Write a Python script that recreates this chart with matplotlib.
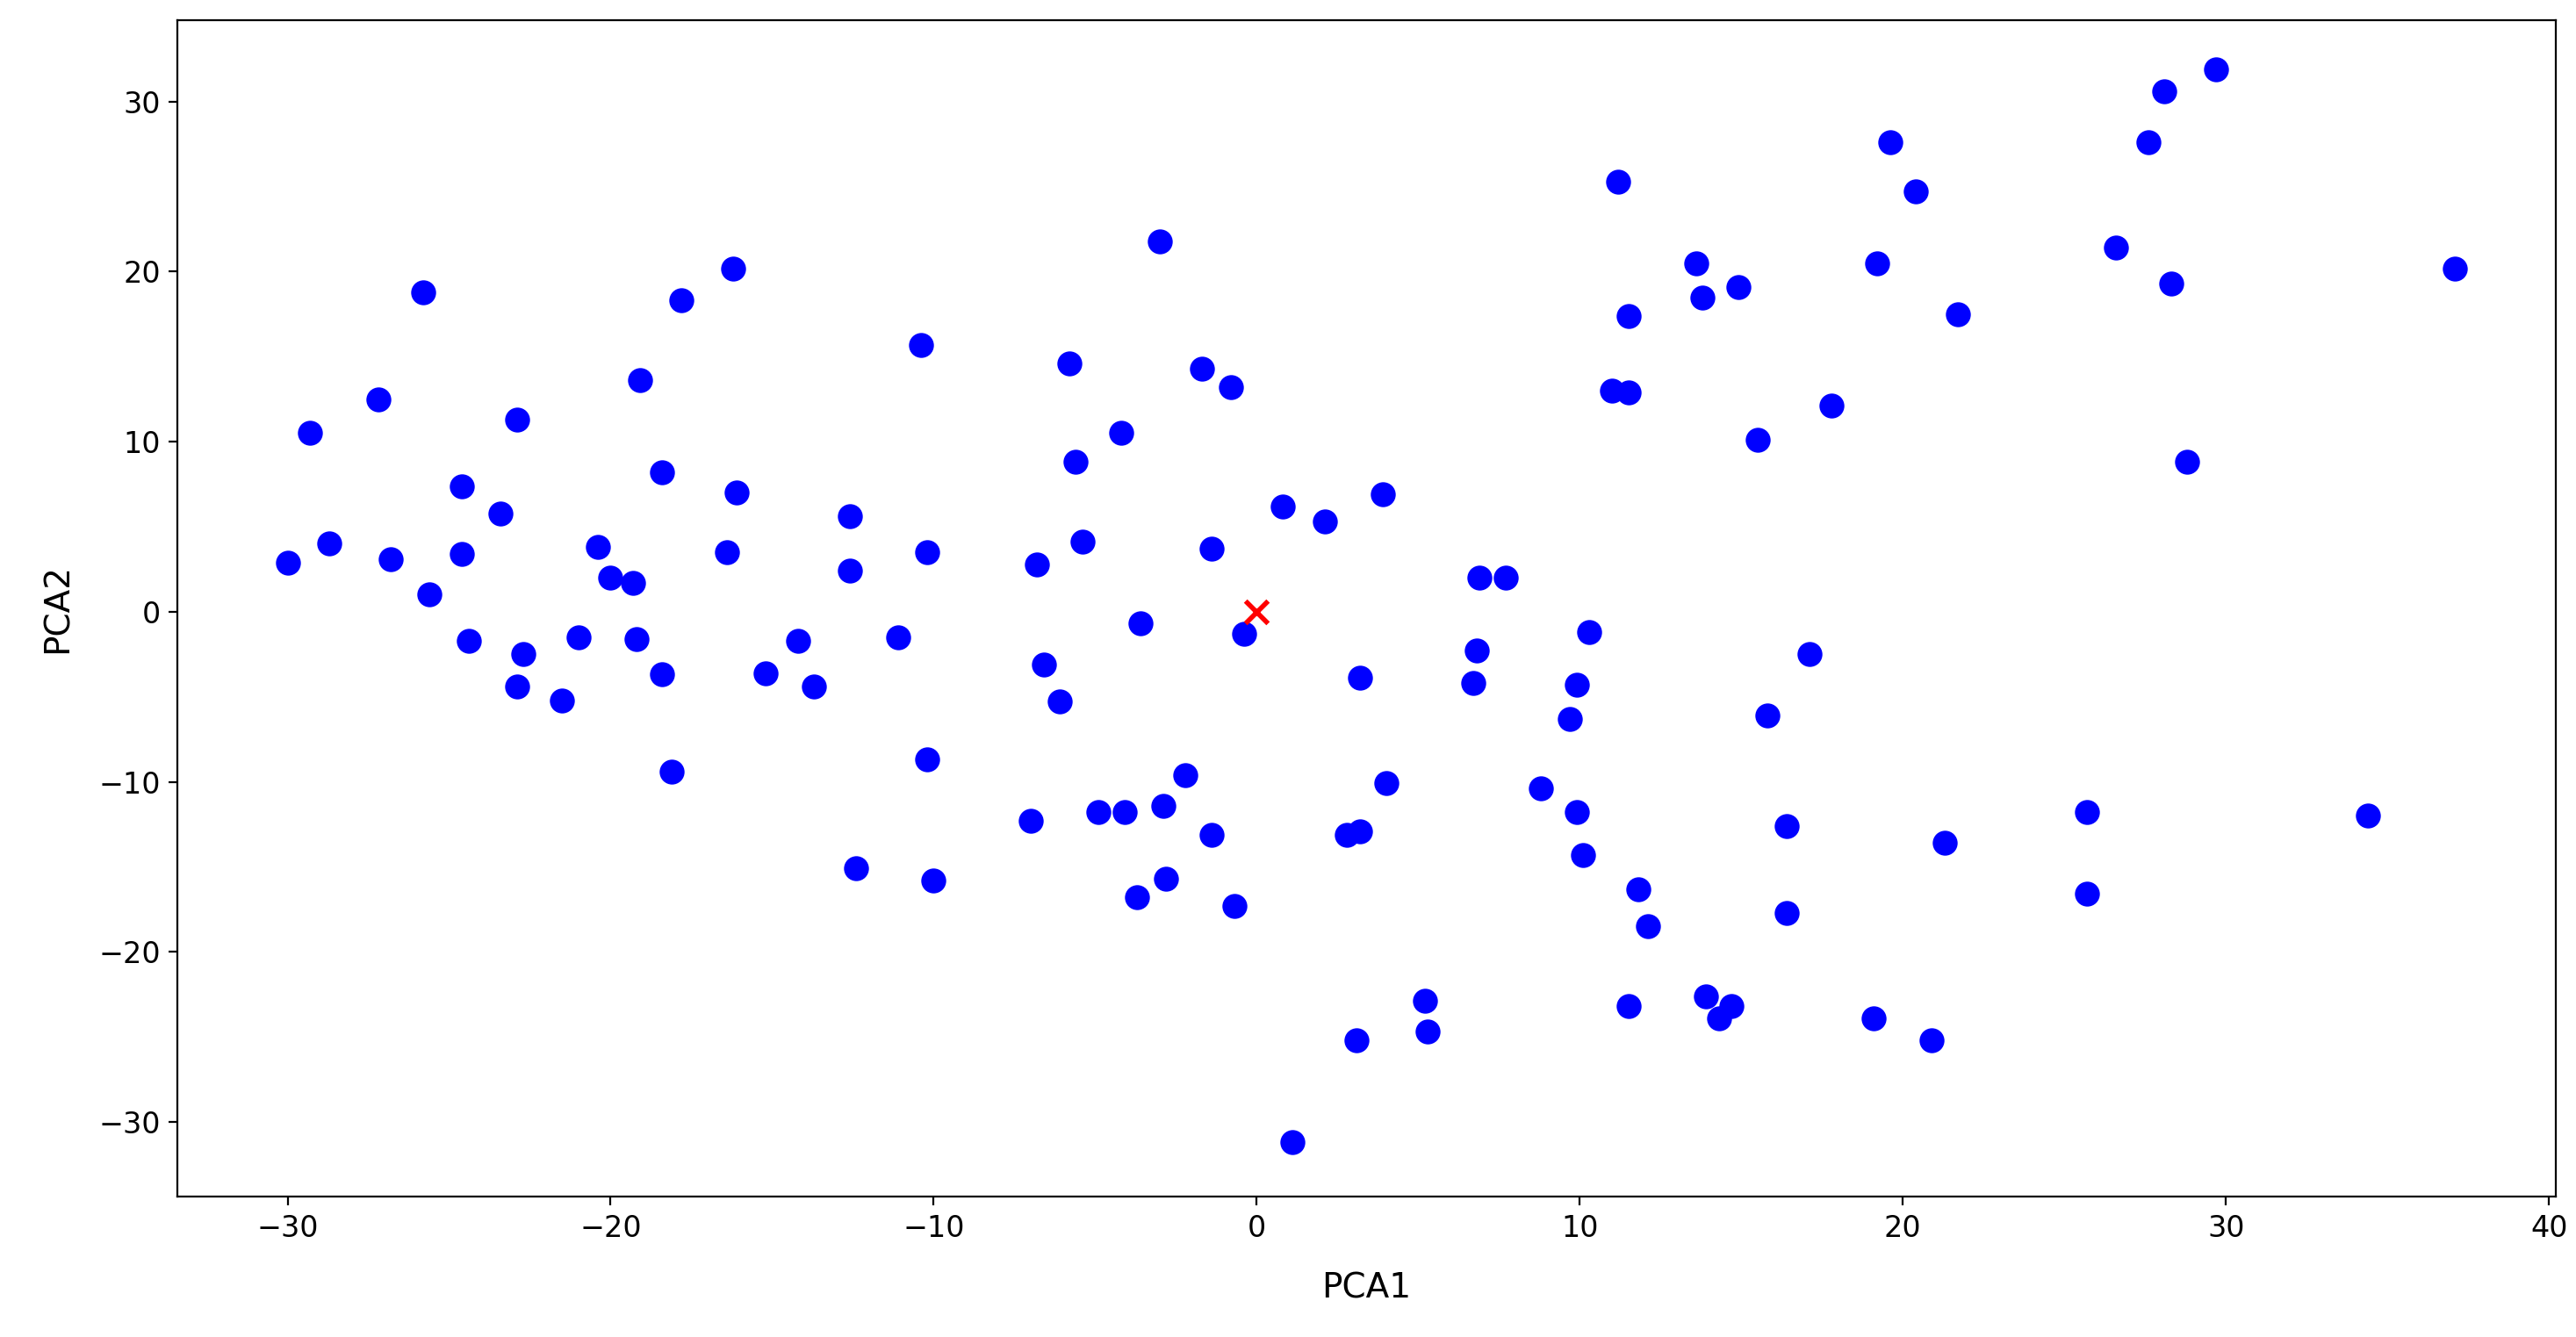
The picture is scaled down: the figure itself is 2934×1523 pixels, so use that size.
import numpy as np
import matplotlib.pyplot as plt

# PCA projection
pca1 = [-30, -29.3, -28.7, -27.2, -26.8, -25.8, -25.6, -24.6, -24.6, -24.4,
        -23.4, -22.9, -22.9, -22.7, -21.5, -21, -20.4, -20, -19.3, -19.1,
        -19.2, -18.4, -18.4, -18.1, -17.8, -16.2, -16.1, -16.4, -15.2, -14.2,
        -13.7, -12.6, -12.6, -12.4, -11.1, -10.4, -10.2, -10.2, -10, -7,
        -6.8, -6.6, -6.1, -5.8, -5.6, -5.4, -4.9, -4.2, -4.1, -3.7,
        -3.6, -3, -2.9, -2.8, -2.2, -1.7, -1.4, -1.4, -0.8, -0.7,
        -0.4, 0.8, 1.1, 2.1, 2.8, 3.1, 3.2, 3.2, 3.9, 4,
        5.2, 5.3, 6.7, 6.8, 6.9, 7.7, 8.8, 9.7, 9.9, 9.9,
        10.1, 10.3, 11, 11.2, 11.5, 11.5, 11.5, 11.8, 12.1, 13.6,
        13.8, 13.9, 14.3, 14.7, 14.9, 15.5, 15.8, 16.4, 16.4, 17.1,
        17.8, 19.1, 19.2, 19.6, 20.4, 20.9, 21.3, 21.7, 25.7, 25.7,
        26.6, 27.6, 28.1, 28.3, 28.8, 29.7, 34.4, 37.1]
pca2 = [2.9, 10.5, 4, 12.5, 3.1, 18.8, 1, 7.4, 3.4, -1.7,
        5.8, 11.3, -4.4, -2.5, -5.2, -1.5, 3.8, 2, 1.7, 13.6,
        -1.6, 8.2, -3.7, -9.4, 18.3, 20.2, 7, 3.5, -3.6, -1.7,
        -4.4, 5.6, 2.4, -15.1, -1.5, 15.7, 3.5, -8.7, -15.8, -12.3,
        2.8, -3.1, -5.3, 14.6, 8.8, 4.1, -11.8, 10.5, -11.8, -16.8,
        -0.7, 21.8, -11.4, -15.7, -9.6, 14.3, 3.7, -13.1, 13.2, -17.3,
        -1.3, 6.2, -31.2, 5.3, -13.1, -25.2, -12.9, -3.9, 6.9, -10.1,
        -22.9, -24.7, -4.2, -2.3, 2, 2, -10.4, -6.3, -11.8, -4.3,
        -14.3, -1.2, 13, 25.3, 12.9, 17.4, -23.2, -16.3, -18.5, 20.5,
        18.5, -22.6, -23.9, -23.2, 19.1, 10.1, -6.1, -12.6, -17.7, -2.5,
        12.1, -23.9, 20.5, 27.6, 24.7, -25.2, -13.6, 17.5, -11.8, -16.6,
        21.4, 27.6, 30.6, 19.3, 8.8, 31.9, -12, 20.2]
center = [0], [0]

fig, ax = plt.subplots(figsize=(14.67, 7.615), dpi=200)
ax.scatter(pca1, pca2, c='blue', s=85)
ax.scatter(*center, c='red', marker='x', s=85, linewidths=2)
ax.set_xlabel("PCA1", fontsize=14, labelpad=12)
ax.set_ylabel("PCA2", fontsize=14, labelpad=10)
ax.tick_params(labelsize=12)
ax.set_xlim(-33.4, 40.2)
ax.set_ylim(-34.4, 34.8)
plt.subplots_adjust(left=0.069, right=0.992, top=0.985, bottom=0.105)
plt.savefig("out.png")
